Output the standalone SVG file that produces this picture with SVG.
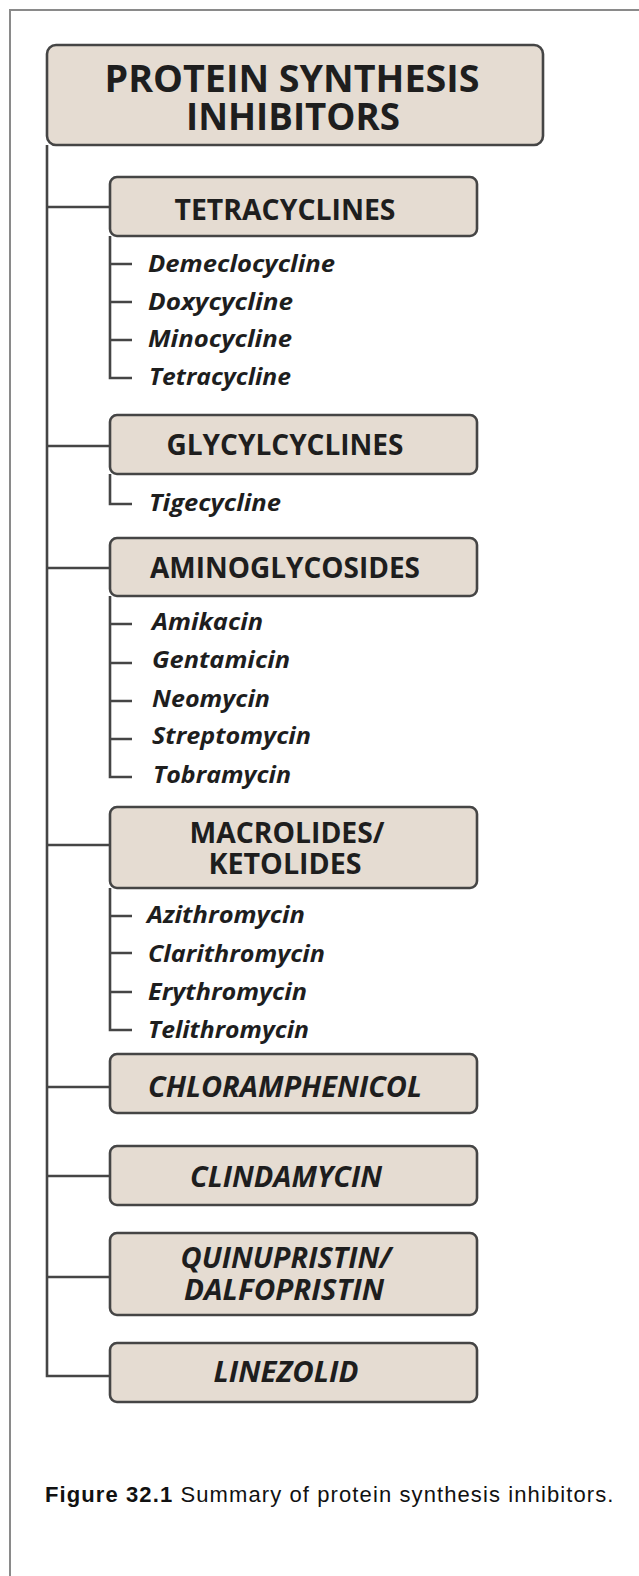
<svg xmlns="http://www.w3.org/2000/svg" width="639" height="1576" viewBox="0 0 639 1576">
<style>
.box{fill:#e5dcd2;stroke:#454545;stroke-width:2.6}
.ln{fill:none;stroke:#454545;stroke-width:2.6}
.t{font-family:"Open Sans","Noto Sans",sans-serif;font-weight:700;fill:#1e1e1e}
.h{font-size:28px;text-anchor:middle}
.hi{font-size:28px;text-anchor:middle;font-style:italic}
.it{font-size:24px;font-style:italic}
.cap{font-family:"Liberation Sans",Arial,sans-serif;font-size:22px;fill:#111;letter-spacing:1.1px}
</style>
<rect width="639" height="1576" fill="#ffffff"/>
<path d="M10,1576 V10 H639" fill="none" stroke="#8a8a8a" stroke-width="2"/>
<g id="connectors">
<path class="ln" d="M47,145 V1376 H110"/>
<path class="ln" d="M47,207 H110 M47,446 H110 M47,568 H110 M47,845 H110 M47,1087 H110 M47,1176 H110 M47,1277 H110"/>
<path class="ln" d="M110,236 V378 H132 M110,264 H132 M110,302 H132 M110,340 H132"/>
<path class="ln" d="M110,474 V504 H132"/>
<path class="ln" d="M110,596 V777 H132 M110,624 H132 M110,663 H132 M110,701 H132 M110,739 H132"/>
<path class="ln" d="M110,888 V1030 H132 M110,916 H132 M110,953 H132 M110,992 H132"/>
</g>
<g id="title">
<rect class="box" x="47" y="45" width="496" height="100" rx="9"/>
<text class="t" x="292" y="92" font-size="38" text-anchor="middle" textLength="375" lengthAdjust="spacingAndGlyphs">PROTEIN SYNTHESIS</text>
<text class="t" x="293" y="130" font-size="38" text-anchor="middle" textLength="214" lengthAdjust="spacingAndGlyphs">INHIBITORS</text>
</g>
<g id="tetracyclines">
<rect class="box" x="110" y="177" width="367" height="59" rx="7"/>
<text class="t h" x="285" y="220" textLength="221" lengthAdjust="spacingAndGlyphs">TETRACYCLINES</text>
<text class="t it" x="148" y="272" textLength="187" lengthAdjust="spacingAndGlyphs">Demeclocycline</text>
<text class="t it" x="148" y="310" textLength="145" lengthAdjust="spacingAndGlyphs">Doxycycline</text>
<text class="t it" x="148" y="347" textLength="144" lengthAdjust="spacingAndGlyphs">Minocycline</text>
<text class="t it" x="149" y="385" textLength="142" lengthAdjust="spacingAndGlyphs">Tetracycline</text>
</g>
<g id="glycylcyclines">
<rect class="box" x="110" y="415" width="367" height="59" rx="7"/>
<text class="t h" x="285" y="455" textLength="237" lengthAdjust="spacingAndGlyphs">GLYCYLCYCLINES</text>
<text class="t it" x="149" y="511" textLength="132" lengthAdjust="spacingAndGlyphs">Tigecycline</text>
</g>
<g id="aminoglycosides">
<rect class="box" x="110" y="538" width="367" height="58" rx="7"/>
<text class="t h" x="285" y="578" textLength="270" lengthAdjust="spacingAndGlyphs">AMINOGLYCOSIDES</text>
<text class="t it" x="152" y="630" textLength="111" lengthAdjust="spacingAndGlyphs">Amikacin</text>
<text class="t it" x="152" y="668" textLength="138" lengthAdjust="spacingAndGlyphs">Gentamicin</text>
<text class="t it" x="152" y="707" textLength="118" lengthAdjust="spacingAndGlyphs">Neomycin</text>
<text class="t it" x="152" y="744" textLength="159" lengthAdjust="spacingAndGlyphs">Streptomycin</text>
<text class="t it" x="153" y="783" textLength="138" lengthAdjust="spacingAndGlyphs">Tobramycin</text>
</g>
<g id="macrolides">
<rect class="box" x="110" y="807" width="367" height="81" rx="7"/>
<text class="t h" x="287" y="843" textLength="195" lengthAdjust="spacingAndGlyphs">MACROLIDES/</text>
<text class="t h" x="285" y="874" textLength="153" lengthAdjust="spacingAndGlyphs">KETOLIDES</text>
<text class="t it" x="147" y="923" textLength="158" lengthAdjust="spacingAndGlyphs">Azithromycin</text>
<text class="t it" x="148" y="962" textLength="177" lengthAdjust="spacingAndGlyphs">Clarithromycin</text>
<text class="t it" x="148" y="1000" textLength="159" lengthAdjust="spacingAndGlyphs">Erythromycin</text>
<text class="t it" x="148" y="1038" textLength="161" lengthAdjust="spacingAndGlyphs">Telithromycin</text>
</g>
<g id="chloramphenicol">
<rect class="box" x="110" y="1054" width="367" height="59" rx="7"/>
<text class="t hi" x="285" y="1097" textLength="274" lengthAdjust="spacingAndGlyphs">CHLORAMPHENICOL</text>
</g>
<g id="clindamycin">
<rect class="box" x="110" y="1146" width="367" height="59" rx="7"/>
<text class="t hi" x="286" y="1187" textLength="192" lengthAdjust="spacingAndGlyphs">CLINDAMYCIN</text>
</g>
<g id="quinupristin">
<rect class="box" x="110" y="1233" width="367" height="82" rx="7"/>
<text class="t hi" x="286" y="1268" textLength="211" lengthAdjust="spacingAndGlyphs">QUINUPRISTIN/</text>
<text class="t hi" x="284" y="1300" textLength="200" lengthAdjust="spacingAndGlyphs">DALFOPRISTIN</text>
</g>
<g id="linezolid">
<rect class="box" x="110" y="1343" width="367" height="59" rx="7"/>
<text class="t hi" x="286" y="1382" textLength="145" lengthAdjust="spacingAndGlyphs">LINEZOLID</text>
</g>
<g id="caption">
<text class="cap" x="45" y="1502"><tspan font-weight="700">Figure 32.1</tspan> Summary of protein synthesis inhibitors.</text>
</g>
</svg>
